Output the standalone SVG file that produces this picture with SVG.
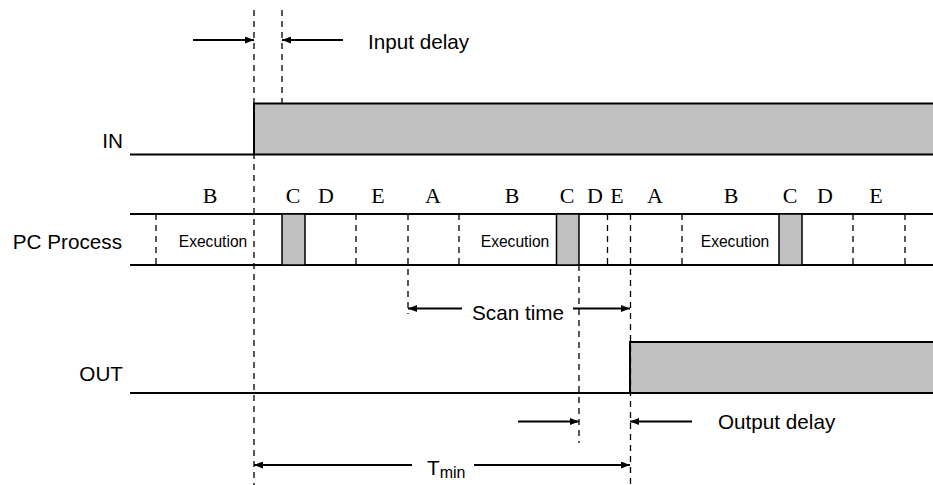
<svg xmlns="http://www.w3.org/2000/svg" width="933" height="485" viewBox="0 0 933 485">
<defs>
<style>
.lbl{font-family:"Liberation Sans",Arial,sans-serif;font-size:20.7px;fill:#000}
.ex{font-family:"Liberation Sans",Arial,sans-serif;font-size:15.6px;fill:#000;text-anchor:middle}
.ph{font-family:"Liberation Serif","Times New Roman",serif;font-size:22px;fill:#000;text-anchor:middle}
.sig{stroke:#000;stroke-width:2;fill:none}
.hi{fill:#c0c0c0;stroke:#000;stroke-width:2}
.cbox{fill:#c0c0c0;stroke:#000;stroke-width:1.5}
.dash{stroke:#000;stroke-width:1.3;stroke-dasharray:6,5;fill:none}
.arr{stroke:#000;stroke-width:2;fill:none;marker-end:url(#ah)}
</style>
<marker id="ah" viewBox="0 0 9 7" refX="9" refY="3.5" markerWidth="9" markerHeight="7" orient="auto" markerUnits="userSpaceOnUse">
<path d="M0,0 L9,3.5 L0,7 z" fill="#000"/>
</marker>
</defs>
<rect width="933" height="485" fill="#fff"/>

<g id="signal-in">
<rect class="hi" x="254" y="103.5" width="690" height="51"/>
<line class="sig" x1="130" y1="154.5" x2="254" y2="154.5"/>
<text class="lbl" x="123" y="148" text-anchor="end">IN</text>
</g>

<g id="pc-process">
<line class="sig" x1="130" y1="214" x2="933" y2="214"/>
<line class="sig" x1="130" y1="265" x2="933" y2="265"/>
<rect class="cbox" x="282" y="214" width="23" height="51"/>
<rect class="cbox" x="556.5" y="214" width="22.5" height="51"/>
<rect class="cbox" x="779" y="214" width="23" height="51"/>
<text class="lbl" x="122" y="249" text-anchor="end">PC Process</text>
<text class="ex" x="213" y="247">Execution</text>
<text class="ex" x="515" y="247">Execution</text>
<text class="ex" x="735" y="247">Execution</text>
<g id="phase-labels">
<text class="ph" x="210" y="203">B</text>
<text class="ph" x="293" y="203">C</text>
<text class="ph" x="326" y="203">D</text>
<text class="ph" x="378" y="203">E</text>
<text class="ph" x="433" y="203">A</text>
<text class="ph" x="512" y="203">B</text>
<text class="ph" x="567" y="203">C</text>
<text class="ph" x="595" y="203">D</text>
<text class="ph" x="617" y="203">E</text>
<text class="ph" x="655" y="203">A</text>
<text class="ph" x="731" y="203">B</text>
<text class="ph" x="790" y="203">C</text>
<text class="ph" x="825" y="203">D</text>
<text class="ph" x="876" y="203">E</text>
</g>
</g>

<g id="signal-out">
<rect class="hi" x="630" y="342" width="310" height="51"/>
<line class="sig" x1="130" y1="393" x2="630" y2="393"/>
<text class="lbl" x="123" y="381" text-anchor="end">OUT</text>
</g>

<g id="guides">
<line class="dash" x1="254" y1="10" x2="254" y2="485"/>
<line class="dash" x1="282" y1="10" x2="282" y2="103"/>
<line class="dash" x1="156" y1="214" x2="156" y2="265"/>
<line class="dash" x1="356" y1="214" x2="356" y2="265"/>
<line class="dash" x1="408" y1="214" x2="408" y2="314"/>
<line class="dash" x1="459" y1="214" x2="459" y2="265"/>
<line class="dash" x1="579" y1="265" x2="579" y2="443"/>
<line class="dash" x1="607.5" y1="214" x2="607.5" y2="265"/>
<line class="dash" x1="630.5" y1="214" x2="630.5" y2="485"/>
<line class="dash" x1="682" y1="214" x2="682" y2="265"/>
<line class="dash" x1="853" y1="214" x2="853" y2="265"/>
<line class="dash" x1="905" y1="214" x2="905" y2="265"/>
</g>

<g id="connectors">
<line class="arr" x1="193" y1="40" x2="254" y2="40"/>
<line class="arr" x1="343" y1="40" x2="282" y2="40"/>
<line class="arr" x1="462" y1="308.5" x2="408" y2="308.5"/>
<line class="arr" x1="573" y1="308.5" x2="630" y2="308.5"/>
<line class="arr" x1="518" y1="421.5" x2="579" y2="421.5"/>
<line class="arr" x1="692" y1="421.5" x2="630" y2="421.5"/>
<line class="arr" x1="412" y1="465" x2="254" y2="465"/>
<line class="arr" x1="474" y1="465" x2="630" y2="465"/>
</g>

<g id="annotations">
<text class="lbl" x="368" y="48.5">Input delay</text>
<text class="lbl" x="472" y="320">Scan time</text>
<text class="lbl" x="718" y="429">Output delay</text>
<text class="lbl" x="427" y="475">T<tspan font-size="16px" dy="3">min</tspan></text>
</g>
</svg>
